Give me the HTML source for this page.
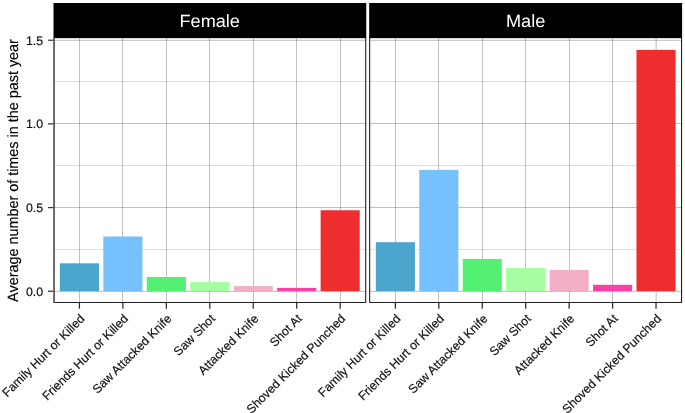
<!DOCTYPE html><html><head><meta charset="utf-8"><style>html,body{margin:0;padding:0;background:#fff}svg{will-change:transform;opacity:0.999}svg text{font-family:"Liberation Sans",sans-serif;text-rendering:geometricPrecision}</style></head><body><svg width="685" height="413" viewBox="0 0 685 413" style="display:block">
<rect width="685" height="413" fill="#fff"/>
<rect x="53.35" y="249.20" width="312.90" height="0.13" fill="#000"/>
<rect x="53.35" y="165.52" width="312.90" height="0.13" fill="#000"/>
<rect x="53.35" y="81.85" width="312.90" height="0.13" fill="#000"/>
<rect x="53.35" y="290.98" width="312.90" height="0.25" fill="#000"/>
<rect x="53.35" y="207.30" width="312.90" height="0.25" fill="#000"/>
<rect x="53.35" y="123.63" width="312.90" height="0.25" fill="#000"/>
<rect x="53.35" y="39.95" width="312.90" height="0.25" fill="#000"/>
<rect x="79.30" y="38.1" width="0.25" height="264.90" fill="#000"/>
<rect x="122.76" y="38.1" width="0.25" height="264.90" fill="#000"/>
<rect x="166.22" y="38.1" width="0.25" height="264.90" fill="#000"/>
<rect x="209.67" y="38.1" width="0.25" height="264.90" fill="#000"/>
<rect x="253.13" y="38.1" width="0.25" height="264.90" fill="#000"/>
<rect x="296.59" y="38.1" width="0.25" height="264.90" fill="#000"/>
<rect x="340.05" y="38.1" width="0.25" height="264.90" fill="#000"/>
<rect x="59.87" y="263.30" width="39.11" height="27.80" fill="#4BA6CD"/>
<rect x="103.33" y="236.50" width="39.11" height="54.60" fill="#76C0FF"/>
<rect x="146.79" y="277.00" width="39.11" height="14.10" fill="#54F073"/>
<rect x="190.24" y="282.00" width="39.11" height="9.10" fill="#A6FFA0"/>
<rect x="233.70" y="286.10" width="39.11" height="5.00" fill="#F3AFC8"/>
<rect x="277.16" y="287.90" width="39.11" height="3.20" fill="#FB41A5"/>
<rect x="320.62" y="210.25" width="39.11" height="80.85" fill="#EE2E2E"/>
<path d="M53.2 302.5 H365.7 V38.1" fill="none" stroke="#222" stroke-width="1.1"/>
<rect x="53.50" y="3" width="312.75" height="35.15" fill="#000"/>
<text transform="translate(209.70,26.5) scale(1.022,1)" font-size="17.75" fill="#fff" text-anchor="middle">Female</text>
<line x1="79.42" x2="79.42" y1="302.5" y2="308.7" stroke="#2a2a2a" stroke-width="1.25"/>
<text transform="translate(85.42,319.40) rotate(-45)" font-size="12.3" fill="#111" stroke="#111" stroke-width="0.18" text-anchor="end">Family Hurt or Killed</text>
<line x1="122.88" x2="122.88" y1="302.5" y2="308.7" stroke="#2a2a2a" stroke-width="1.25"/>
<text transform="translate(128.88,319.40) rotate(-45)" font-size="12.3" fill="#111" stroke="#111" stroke-width="0.18" text-anchor="end">Friends Hurt or Killed</text>
<line x1="166.34" x2="166.34" y1="302.5" y2="308.7" stroke="#2a2a2a" stroke-width="1.25"/>
<text transform="translate(172.34,319.40) rotate(-45)" font-size="12.3" fill="#111" stroke="#111" stroke-width="0.18" text-anchor="end">Saw Attacked Knife</text>
<line x1="209.80" x2="209.80" y1="302.5" y2="308.7" stroke="#2a2a2a" stroke-width="1.25"/>
<text transform="translate(215.80,319.40) rotate(-45)" font-size="12.3" fill="#111" stroke="#111" stroke-width="0.18" text-anchor="end">Saw Shot</text>
<line x1="253.26" x2="253.26" y1="302.5" y2="308.7" stroke="#2a2a2a" stroke-width="1.25"/>
<text transform="translate(259.26,319.40) rotate(-45)" font-size="12.3" fill="#111" stroke="#111" stroke-width="0.18" text-anchor="end">Attacked Knife</text>
<line x1="296.72" x2="296.72" y1="302.5" y2="308.7" stroke="#2a2a2a" stroke-width="1.25"/>
<text transform="translate(302.72,319.40) rotate(-45)" font-size="12.3" fill="#111" stroke="#111" stroke-width="0.18" text-anchor="end">Shot At</text>
<line x1="340.17" x2="340.17" y1="302.5" y2="308.7" stroke="#2a2a2a" stroke-width="1.25"/>
<text transform="translate(346.17,319.40) rotate(-45)" font-size="12.3" fill="#111" stroke="#111" stroke-width="0.18" text-anchor="end">Shoved Kicked Punched</text>
<rect x="369.3" y="249.20" width="312.80" height="0.13" fill="#000"/>
<rect x="369.3" y="165.52" width="312.80" height="0.13" fill="#000"/>
<rect x="369.3" y="81.85" width="312.80" height="0.13" fill="#000"/>
<rect x="369.3" y="290.98" width="312.80" height="0.25" fill="#000"/>
<rect x="369.3" y="207.30" width="312.80" height="0.25" fill="#000"/>
<rect x="369.3" y="123.63" width="312.80" height="0.25" fill="#000"/>
<rect x="369.3" y="39.95" width="312.80" height="0.25" fill="#000"/>
<rect x="395.24" y="38.1" width="0.25" height="264.90" fill="#000"/>
<rect x="438.69" y="38.1" width="0.25" height="264.90" fill="#000"/>
<rect x="482.13" y="38.1" width="0.25" height="264.90" fill="#000"/>
<rect x="525.58" y="38.1" width="0.25" height="264.90" fill="#000"/>
<rect x="569.02" y="38.1" width="0.25" height="264.90" fill="#000"/>
<rect x="612.46" y="38.1" width="0.25" height="264.90" fill="#000"/>
<rect x="655.91" y="38.1" width="0.25" height="264.90" fill="#000"/>
<rect x="375.82" y="242.20" width="39.10" height="48.90" fill="#4BA6CD"/>
<rect x="419.26" y="169.90" width="39.10" height="121.20" fill="#76C0FF"/>
<rect x="462.71" y="258.95" width="39.10" height="32.15" fill="#54F073"/>
<rect x="506.15" y="267.90" width="39.10" height="23.20" fill="#A6FFA0"/>
<rect x="549.59" y="269.90" width="39.10" height="21.20" fill="#F3AFC8"/>
<rect x="593.04" y="284.80" width="39.10" height="6.30" fill="#FB41A5"/>
<rect x="636.48" y="49.90" width="39.10" height="241.20" fill="#EE2E2E"/>
<path d="M369.65000000000003 38.1 V302.5 H681.5500000000001 V38.1" fill="none" stroke="#222" stroke-width="1.1"/>
<rect x="369.20" y="3" width="312.90" height="35.15" fill="#000"/>
<text transform="translate(525.60,26.5) scale(1.022,1)" font-size="17.75" fill="#fff" text-anchor="middle">Male</text>
<line x1="395.37" x2="395.37" y1="302.5" y2="308.7" stroke="#2a2a2a" stroke-width="1.25"/>
<text transform="translate(401.37,319.40) rotate(-45)" font-size="12.3" fill="#111" stroke="#111" stroke-width="0.18" text-anchor="end">Family Hurt or Killed</text>
<line x1="438.81" x2="438.81" y1="302.5" y2="308.7" stroke="#2a2a2a" stroke-width="1.25"/>
<text transform="translate(444.81,319.40) rotate(-45)" font-size="12.3" fill="#111" stroke="#111" stroke-width="0.18" text-anchor="end">Friends Hurt or Killed</text>
<line x1="482.26" x2="482.26" y1="302.5" y2="308.7" stroke="#2a2a2a" stroke-width="1.25"/>
<text transform="translate(488.26,319.40) rotate(-45)" font-size="12.3" fill="#111" stroke="#111" stroke-width="0.18" text-anchor="end">Saw Attacked Knife</text>
<line x1="525.70" x2="525.70" y1="302.5" y2="308.7" stroke="#2a2a2a" stroke-width="1.25"/>
<text transform="translate(531.70,319.40) rotate(-45)" font-size="12.3" fill="#111" stroke="#111" stroke-width="0.18" text-anchor="end">Saw Shot</text>
<line x1="569.14" x2="569.14" y1="302.5" y2="308.7" stroke="#2a2a2a" stroke-width="1.25"/>
<text transform="translate(575.14,319.40) rotate(-45)" font-size="12.3" fill="#111" stroke="#111" stroke-width="0.18" text-anchor="end">Attacked Knife</text>
<line x1="612.59" x2="612.59" y1="302.5" y2="308.7" stroke="#2a2a2a" stroke-width="1.25"/>
<text transform="translate(618.59,319.40) rotate(-45)" font-size="12.3" fill="#111" stroke="#111" stroke-width="0.18" text-anchor="end">Shot At</text>
<line x1="656.03" x2="656.03" y1="302.5" y2="308.7" stroke="#2a2a2a" stroke-width="1.25"/>
<text transform="translate(662.03,319.40) rotate(-45)" font-size="12.3" fill="#111" stroke="#111" stroke-width="0.18" text-anchor="end">Shoved Kicked Punched</text>
<line x1="54.05" x2="54.05" y1="38.1" y2="303.0" stroke="#555" stroke-width="1.7"/>
<line x1="48" x2="53.5" y1="291.25" y2="291.25" stroke="#383838" stroke-width="1.25"/>
<text x="43.1" y="295.60" font-size="12.3" fill="#111" stroke="#111" stroke-width="0.18" text-anchor="end">0.0</text>
<line x1="48" x2="53.5" y1="207.58" y2="207.58" stroke="#383838" stroke-width="1.25"/>
<text x="43.1" y="211.93" font-size="12.3" fill="#111" stroke="#111" stroke-width="0.18" text-anchor="end">0.5</text>
<line x1="48" x2="53.5" y1="123.90" y2="123.90" stroke="#383838" stroke-width="1.25"/>
<text x="43.1" y="128.25" font-size="12.3" fill="#111" stroke="#111" stroke-width="0.18" text-anchor="end">1.0</text>
<line x1="48" x2="53.5" y1="40.23" y2="40.23" stroke="#383838" stroke-width="1.25"/>
<text x="43.1" y="44.58" font-size="12.3" fill="#111" stroke="#111" stroke-width="0.18" text-anchor="end">1.5</text>
<text transform="translate(18.0,170.5) rotate(-90) scale(0.966,1)" font-size="14.9" fill="#000" stroke="#000" stroke-width="0.15" text-anchor="middle">Average number of times in the past year</text>
</svg></body></html>
